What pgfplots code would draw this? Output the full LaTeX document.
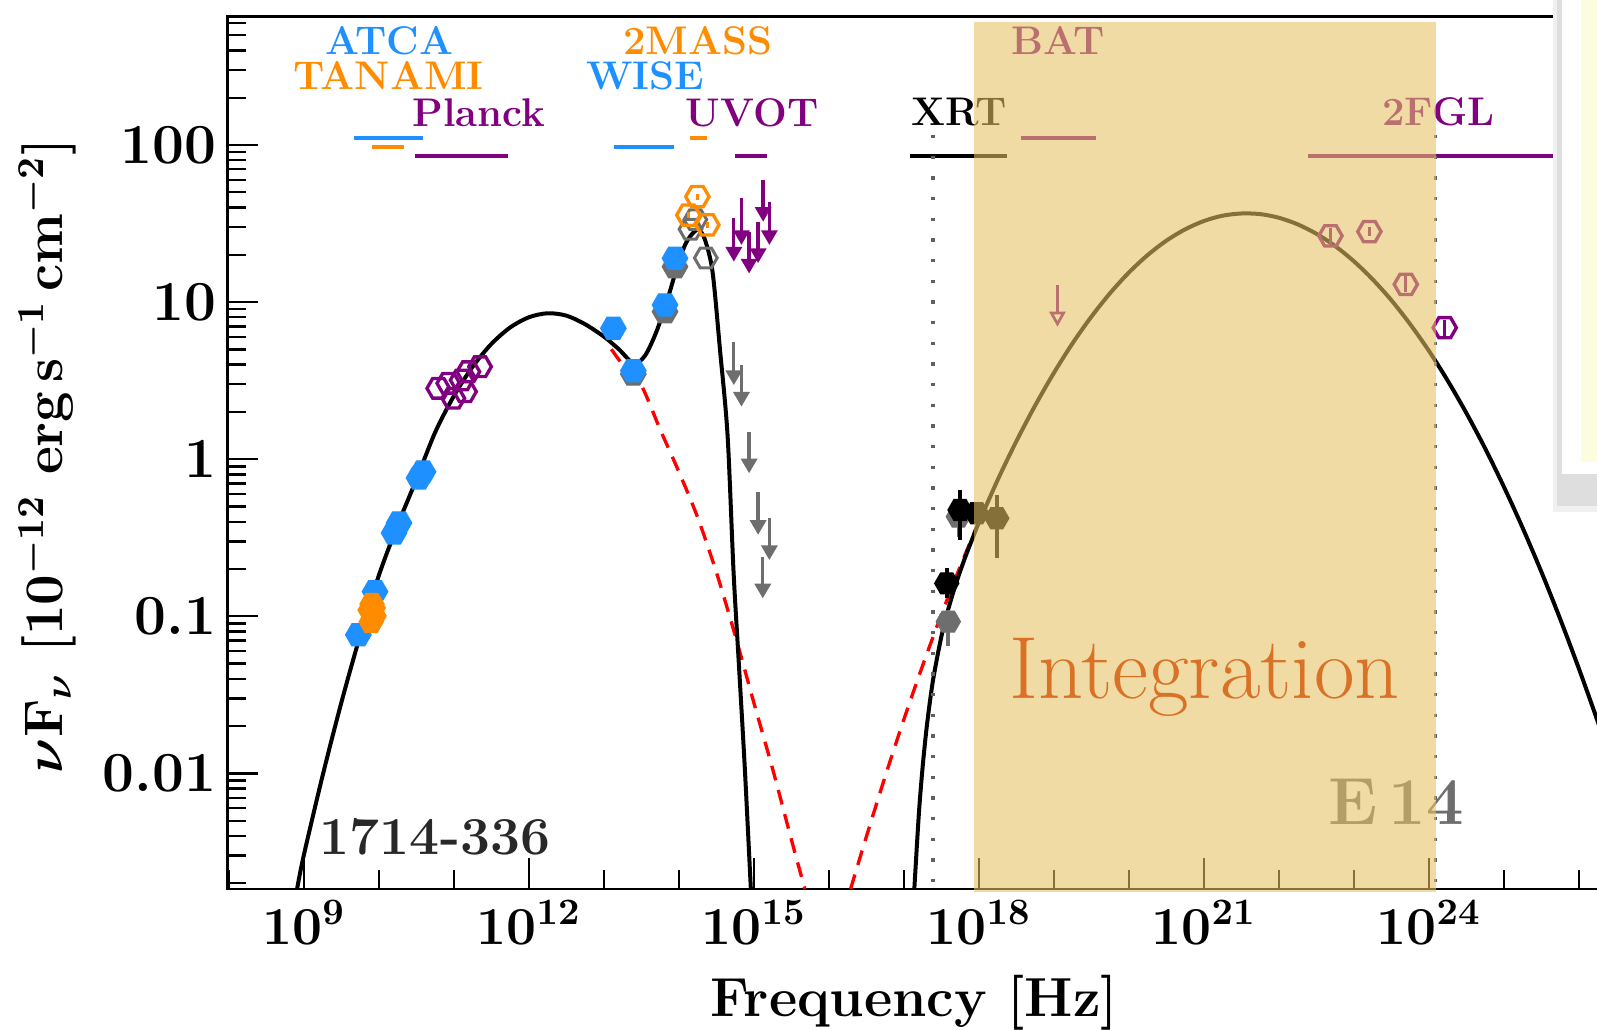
\RequirePackage{fix-cm}
\documentclass[border=0pt]{standalone}
\usepackage{fontspec}
\usepackage{pgfplots}
\pgfplotsset{compat=1.18}
\usetikzlibrary{arrows.meta}

\definecolor{cblue}{RGB}{30,144,255}
\definecolor{corange}{RGB}{255,140,0}
\definecolor{cpurple}{RGB}{128,0,128}
\definecolor{cgray}{RGB}{110,110,110}
\definecolor{crect}{RGB}{229,193,98}
\definecolor{cint}{RGB}{217,114,38}
\definecolor{cdot}{RGB}{96,96,96}
\definecolor{cpanel}{RGB}{252,252,222}
\definecolor{cdark}{RGB}{40,40,40}

\pgfdeclareplotmark{hexf}{%
 \pgfpathmoveto{\pgfpointpolar{0}{\pgfplotmarksize}}%
 \pgfpathlineto{\pgfpointpolar{60}{\pgfplotmarksize}}%
 \pgfpathlineto{\pgfpointpolar{120}{\pgfplotmarksize}}%
 \pgfpathlineto{\pgfpointpolar{180}{\pgfplotmarksize}}%
 \pgfpathlineto{\pgfpointpolar{240}{\pgfplotmarksize}}%
 \pgfpathlineto{\pgfpointpolar{300}{\pgfplotmarksize}}%
 \pgfpathclose\pgfusepathqfillstroke}
\pgfdeclareplotmark{hexo}{%
 \pgfpathmoveto{\pgfpointpolar{0}{\pgfplotmarksize}}%
 \pgfpathlineto{\pgfpointpolar{60}{\pgfplotmarksize}}%
 \pgfpathlineto{\pgfpointpolar{120}{\pgfplotmarksize}}%
 \pgfpathlineto{\pgfpointpolar{180}{\pgfplotmarksize}}%
 \pgfpathlineto{\pgfpointpolar{240}{\pgfplotmarksize}}%
 \pgfpathlineto{\pgfpointpolar{300}{\pgfplotmarksize}}%
 \pgfpathclose\pgfusepathqstroke}

\tikzset{
  ularr/.style={line width=1pt, -{Triangle[width=4.8pt,length=4.4pt]}},
  rline/.style={line width=1.3pt},
  toplab/.style={anchor=base, font=\fontsize{12}{13}\selectfont\bfseries},
}

\begin{document}
\begin{tikzpicture}[x=0.3pt,y=0.3pt]
\useasboundingbox (0,0) rectangle (1597,1029);
\clip (0,0) rectangle (1597,1029);
\begin{axis}[
  at={(68.31pt,42pt)}, anchor=south west,
  scale only axis, width=427.84pt, height=261.8pt,
  xmode=log, ymode=log,
  xmin=9.66e7, xmax=1e27, ymin=0.001837, ymax=659,
  clip=false, clip marker paths=true,
  axis line style={line width=0.8pt},
  tick style={line width=0.7pt, black},
  tick align=inside, tick pos=left,
  major tick length=9.2pt, minor tick length=5.6pt,
  xtick={1e9,1e12,1e15,1e18,1e21,1e24},
  minor xtick={1e8,1e10,1e11,1e13,1e14,1e16,1e17,1e19,1e20,1e22,1e23,1e25,1e26},
  ytick={0.01,0.1,1,10,100},
  yticklabels={0.01,0.1,1,10,100},
  minor ytick={0.002,0.003,0.004,0.005,0.006,0.007,0.008,0.009,
    0.02,0.03,0.04,0.05,0.06,0.07,0.08,0.09,
    0.2,0.3,0.4,0.5,0.6,0.7,0.8,0.9,
    2,3,4,5,6,7,8,9,20,30,40,50,60,70,80,90,200,300,400,500,600},
  xticklabel style={font=\fontsize{16}{17}\selectfont\bfseries\boldmath},
  yticklabel style={font=\fontsize{17}{18}\selectfont\bfseries\boldmath},
]
% model curves
\addplot[red, line width=1pt, dash pattern=on 4.5pt off 3pt, smooth] coordinates {
(1.259e13,5.01) (1.995e13,3.72) (3.162e13,2.95) (5.623e13,1.549) (1e14,0.832)
(1.778e14,0.427) (3.162e14,0.191) (5.623e14,0.0759) (1e15,0.0282) (1.778e15,0.0107)
(3.162e15,0.0038) (4.786e15,0.00184)};
\addplot[red, line width=1pt, dash pattern=on 4.5pt off 3pt, smooth] coordinates {
(1.95e16,0.00184) (3.162e16,0.00395) (5.623e16,0.00953) (1e17,0.0220) (1.778e17,0.0485)
(3.162e17,0.1023) (5.623e17,0.2065) (1e18,0.399) (1.778e18,0.736)};
\addplot[black, line width=1.2pt, smooth] coordinates {
(8.13e8,0.00184) (1e9,0.00302) (1.778e9,0.00966) (3.162e9,0.0282) (5.623e9,0.0752)
(1e10,0.182) (1.778e10,0.380) (3.162e10,0.741) (5.623e10,1.479) (1e11,2.523)
(1.778e11,3.873) (3.162e11,5.41) (5.623e11,6.89) (1e12,8.0) (1.778e12,8.49)
(3.162e12,8.20) (5.623e12,7.23) (1e13,6.03) (1.585e13,5.01) (2.512e13,4.07)
(3.548e13,4.57) (5.012e13,6.46) (7.079e13,10.47) (1e14,18.2) (1.259e14,24.0)
(1.585e14,27.9) (1.862e14,28.8) (2.239e14,24.8) (2.818e14,15.5) (3.548e14,4.90)
(4.467e14,1.41) (5.37e14,0.19) (6.31e14,0.050) (7.586e14,0.0107) (9.12e14,0.00184)};
\addplot[black, line width=1.2pt, smooth] coordinates {
(1.38e17,0.00184) (1.585e17,0.00551) (1.778e17,0.0109) (1.995e17,0.0188) (2.239e17,0.0292)
(2.512e17,0.0421) (3.162e17,0.0741) (3.981e17,0.1143) (5.012e17,0.164) (6.31e17,0.225)
(7.943e17,0.300) (1e18,0.394) (1.778e18,0.736) (3.162e18,1.300) (5.623e18,2.193)
(1e19,3.540) (1.778e19,5.470) (3.162e19,8.07) (5.623e19,11.40) (1e20,15.42)
(1.778e20,19.91) (3.162e20,24.60) (5.623e20,29.04) (1e21,32.81) (1.778e21,35.48)
(3.162e21,36.64) (5.623e21,36.31) (1e22,34.43) (1.778e22,31.26) (3.162e22,27.23)
(5.623e22,22.75) (1e23,18.20) (1.778e23,13.96) (3.162e23,10.28) (5.623e23,7.24)
(1e24,4.90) (1.778e24,3.17) (3.162e24,1.968) (5.623e24,1.172) (1e25,0.668)
(1.778e25,0.366) (3.162e25,0.192) (5.623e25,0.0964) (1e26,0.0465) (1.778e26,0.0215)
(3.162e26,0.0095)};
% instrument ranges
\addplot[cblue, rline] coordinates {(4.67e9,111.2) (3.86e10,111.2)};
\addplot[corange, rline] coordinates {(8.18e9,97.5) (2.15e10,97.5)};
\addplot[cpurple, rline] coordinates {(2.99e10,85.5) (5.25e11,85.5)};
\addplot[cblue, rline] coordinates {(1.38e13,97.5) (8.49e13,97.5)};
\addplot[corange, rline] coordinates {(1.41e14,111.2) (2.36e14,111.2)};
\addplot[cpurple, rline] coordinates {(5.56e14,85.5) (1.51e15,85.5)};
\addplot[black, rline] coordinates {(1.22e17,85.5) (2.40e18,85.5)};
\addplot[cpurple, rline] coordinates {(3.62e18,111.2) (3.66e19,111.2)};
\addplot[cpurple, rline] coordinates {(2.46e22,85.5) (5.93e25,85.5)};
\node[toplab, text=cblue] at (axis cs:1.38e10,374) {ATCA};
\node[toplab, text=corange] at (axis cs:1.34e10,224) {TANAMI};
\node[toplab, text=cpurple] at (axis cs:2.16e11,132) {Planck};
\node[toplab, text=corange] at (axis cs:1.80e14,374) {2MASS};
\node[toplab, text=cblue] at (axis cs:3.54e13,224) {WISE};
\node[toplab, text=cpurple] at (axis cs:9.46e14,132) {UVOT};
\node[toplab, text=cpurple] at (axis cs:1.13e19,374) {BAT};
\node[toplab, text=black] at (axis cs:5.40e17,134) {XRT};
\node[toplab, text=cpurple] at (axis cs:1.34e24,134) {2FGL};
% dotted energy limits
\addplot[cdot, line width=1pt, dash pattern=on 1pt off 5.2pt] coordinates {(2.455e17,115.8) (2.455e17,0.00184)};
\addplot[cdot, line width=1pt, dash pattern=on 1pt off 5.2pt] coordinates {(1.233e24,115.8) (1.233e24,0.00184)};
% radio
\addplot[only marks, mark=hexf, mark size=3.8pt, cblue, mark options={fill=cblue}] coordinates {
(5.33e9,0.0762) (8.89e9,0.1435) (1.596e10,0.339) (1.858e10,0.393) (3.436e10,0.759) (3.88e10,0.830)};
\addplot[only marks, mark=hexf, mark size=3.6pt, corange, mark options={fill=corange}] coordinates {
(8.11e9,0.1197) (7.64e9,0.1096) (8.63e9,0.1005) (7.9e9,0.0920) (8.4e9,0.113)};
\addplot[only marks, mark=hexo, mark size=3.4pt, cpurple, line width=1pt] coordinates {
(6.21e10,2.825) (8.45e10,3.041) (9.84e10,2.443) (1.274e11,3.192) (1.409e11,2.692) (1.560e11,3.606) (2.234e11,3.882)};
% IR / optical
\addplot[only marks, mark=hexf, mark size=3.8pt, cgray, mark options={fill=cgray}] coordinates {
(2.472e13,3.483) (6.55e13,8.69) (8.89e13,16.8)};
\addplot[only marks, mark=hexf, mark size=3.8pt, cblue, mark options={fill=cblue}] coordinates {
(1.340e13,6.81) (2.472e13,3.656) (6.55e13,9.59) (8.89e13,19.0)};
\addplot[only marks, mark=hexo, mark size=3.4pt, cgray, line width=0.9pt] coordinates {
(1.432e14,29.1) (2.291e14,19.1) (1.66e14,33.5)};
\addplot[only marks, mark=hexo, mark size=3.5pt, corange, line width=1pt,
  error bars/.cd, y dir=both, y explicit, error mark=none, error bar style={line width=1pt, corange}] coordinates {
(1.766e14,46.9) +- (0,2.0)
(1.340e14,35.8) +- (0,1.5)
(2.399e14,31.0) +- (0,1.3)};
% UVOT upper limits
\addplot[cpurple, ularr] coordinates {(5.41e14,34.1) (5.41e14,18.1)};
\addplot[cpurple, ularr] coordinates {(6.84e14,45.8) (6.84e14,23.1)};
\addplot[cpurple, ularr] coordinates {(8.65e14,28.1) (8.65e14,15.2)};
\addplot[cpurple, ularr] coordinates {(1.140e15,32.5) (1.140e15,17.7)};
\addplot[cpurple, ularr] coordinates {(1.330e15,59.8) (1.330e15,32.5)};
\addplot[cpurple, ularr] coordinates {(1.611e15,43.6) (1.611e15,23.1)};
\addplot[cgray, ularr] coordinates {(5.41e14,5.60) (5.41e14,2.96)};
\addplot[cgray, ularr] coordinates {(6.84e14,3.98) (6.84e14,2.16)};
\addplot[cgray, ularr] coordinates {(8.65e14,1.496) (8.65e14,0.813)};
\addplot[cgray, ularr] coordinates {(1.140e15,0.622) (1.140e15,0.330)};
\addplot[cgray, ularr] coordinates {(1.611e15,0.421) (1.611e15,0.228)};
\addplot[cgray, ularr] coordinates {(1.315e15,0.240) (1.315e15,0.130)};
% X-rays
\addplot[only marks, mark=hexf, mark size=3.6pt, cgray, mark options={fill=cgray},
  error bars/.cd, y dir=both, y explicit, error mark=none, error bar style={line width=1.1pt, cgray}] coordinates {
(5.33e17,0.431) += (0,0.12) -= (0,0.11)
(3.917e17,0.0925) += (0,0.017) -= (0,0.028)};
\addplot[only marks, mark=hexf, mark size=3.6pt, black, mark options={fill=black},
  error bars/.cd, y dir=both, y explicit, error mark=none, error bar style={line width=1.1pt, black}] coordinates {
(5.61e17,0.475) += (0,0.162) -= (0,0.169)
(3.733e17,0.162) += (0,0.040) -= (0,0.032)
(9.38e17,0.453) += (0,0.05) -= (0,0.05)
(1.734e18,0.421) += (0,0.171) -= (0,0.187)};
% BAT upper limit
\addplot[cpurple, line width=0.8pt, -{Triangle[open,width=4.8pt,length=4.5pt]}] coordinates {(1.117e19,12.85) (1.117e19,6.97)};
% Fermi
\addplot[only marks, mark=hexo, mark size=3.5pt, cpurple, line width=1pt,
  error bars/.cd, y dir=both, y explicit, error mark=none, error bar style={line width=0.9pt, cpurple}] coordinates {
(4.875e22,26.4) += (0,3.3) -= (0,2.9)
(1.611e23,28.1) += (0,2.0) -= (0,1.8)
(4.93e23,12.97) += (0,1.6) -= (0,1.4)
(1.629e24,6.87) += (0,0.85) -= (0,0.75)};
% labels in plot
\node[anchor=base, text=cdark, font=\fontsize{16}{18}\selectfont\bfseries] at (axis cs:5.61e10,0.00303) {1714-336};
\node[anchor=base, text=cgray, font=\fontsize{20}{22}\selectfont\bfseries] at (axis cs:3.66e23,0.0047) {E\,14};
% integration range
\fill[crect, fill opacity=0.58] (axis cs:8.51e17,0.001766) rectangle (axis cs:1.233e24,609.5);
\node[anchor=base, text=cint, font=\fontsize{26.5}{30}\selectfont] at (axis cs:1.02e21,0.0301) {Integration};
\end{axis}
% overlapping panel at the right edge
\fill[black!6] (1553,517) rectangle (1600,1029);
\fill[black!13] (1557,523) rectangle (1600,1029);
\fill[white] (1562,555) rectangle (1600,1029);
\fill[cpanel] (1581,567) rectangle (1600,1029);
% axis titles
\node[rotate=90, font=\fontsize{16.3}{18}\selectfont\bfseries\boldmath] at (47.5,573)
  {$\nu$F$_{\nu}$ [10$^{-12}$ erg\,s$^{-1}$\,cm$^{-2}$]};
\node[anchor=base, font=\fontsize{16.5}{18}\selectfont\bfseries\boldmath] at (914,12.3) {Frequency [Hz]};
\end{tikzpicture}
\end{document}
